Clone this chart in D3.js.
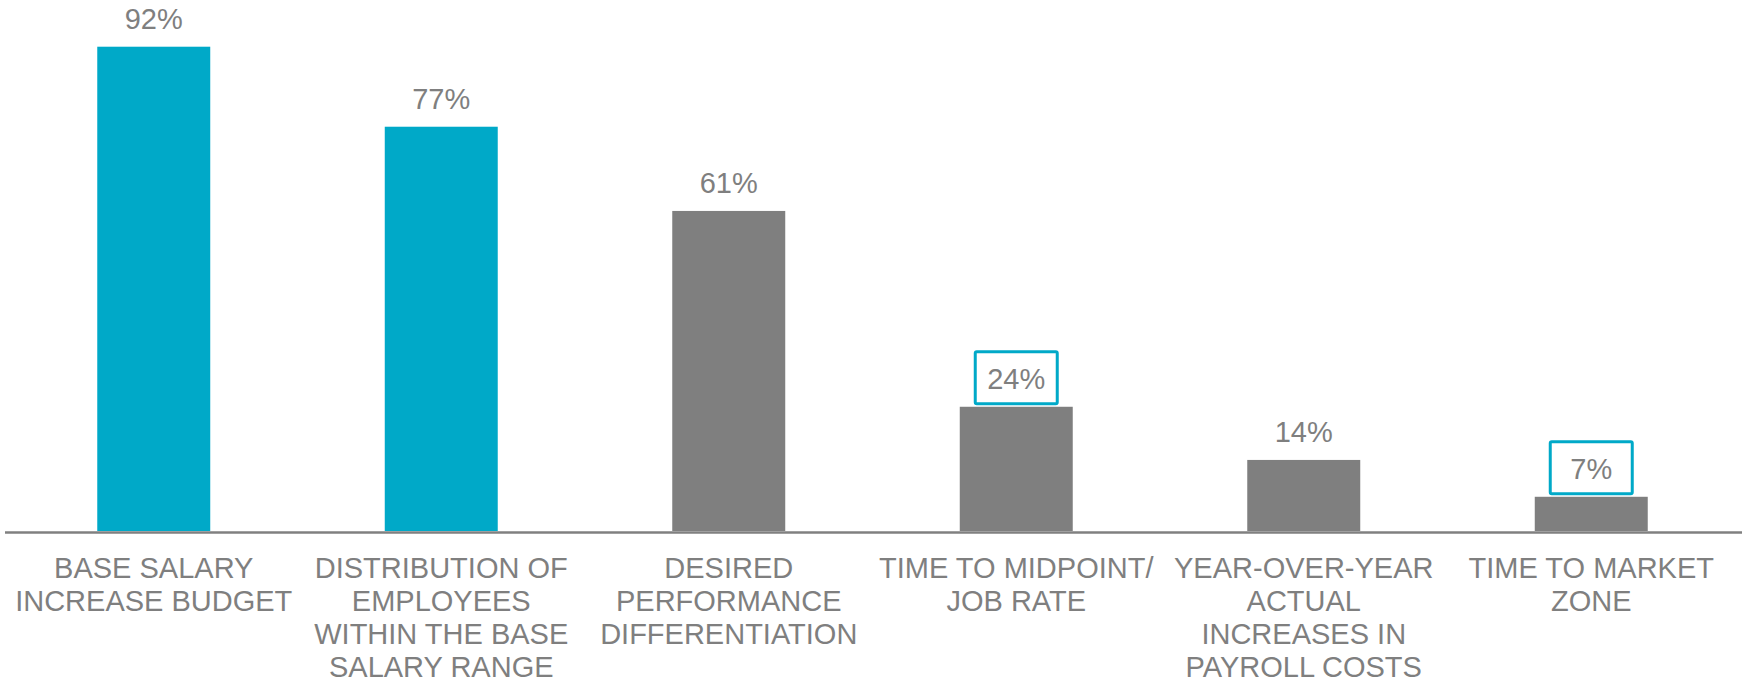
<!DOCTYPE html>
<html>
<head>
<meta charset="utf-8">
<script src="https://cdn.jsdelivr.net/npm/d3@7"></script>
<style>
    body { margin: 0; background: #fff; }
    svg { display: block; font-family: "Liberation Sans", Arial, sans-serif; }
</style>
</head>
<body>
<div id="chart"></div>
<script>
// Chart data
const categories = [
    ["BASE SALARY", "INCREASE BUDGET"],
    ["DISTRIBUTION OF", "EMPLOYEES", "WITHIN THE BASE", "SALARY RANGE"],
    ["DESIRED", "PERFORMANCE", "DIFFERENTIATION"],
    ["TIME TO MIDPOINT/", "JOB RATE"],
    ["YEAR-OVER-YEAR", "ACTUAL", "INCREASES IN", "PAYROLL COSTS"],
    ["TIME TO MARKET", "ZONE"]
];
// bar heights; labels as printed
const values = [92, 76.8, 60.8, 23.6, 13.5, 6.5];
const valueLabels = ["92%", "77%", "61%", "24%", "14%", "7%"];
const highlighted = [true, true, false, false, false, false]; // cyan bars
const boxed = [false, false, false, true, false, true];       // outlined labels

const width = 1742, height = 683;
const cyan = "#00a9c8", grey = "#7f7f7f";

const svg = d3.select("#chart")
    .append("svg")
    .attr("width", width)
    .attr("height", height);

const keys = d3.range(values.length);

const x = d3.scaleBand()
    .domain(keys)
    .range([10, 1735])
    .paddingInner(0.607)
    .paddingOuter(0.3035);

const y = d3.scaleLinear()
    .domain([0, 100])
    .range([531, 4.6]);

// Bars
svg.selectAll(".bar")
    .data(keys)
    .join("rect")
    .attr("class", "bar")
    .attr("x", i => x(i))
    .attr("y", i => y(values[i]))
    .attr("width", x.bandwidth())
    .attr("height", i => y(0) - y(values[i]))
    .attr("fill", i => highlighted[i] ? cyan : grey);

// Baseline
svg.append("line")
    .attr("x1", 5)
    .attr("x2", width)
    .attr("y1", y(0) + 1.5)
    .attr("y2", y(0) + 1.5)
    .attr("stroke", "#808080")
    .attr("stroke-width", 2.5);

// Value labels
const labels = svg.selectAll(".value")
    .data(keys)
    .join("g")
    .attr("class", "value")
    .attr("transform", i => `translate(${x(i) + x.bandwidth() / 2}, ${y(values[i]) - 18})`);

labels.filter(i => boxed[i])
    .append("rect")
    .attr("x", -41)
    .attr("y", -37)
    .attr("width", 82)
    .attr("height", 52)
    .attr("rx", 1.5)
    .attr("fill", "#fff")
    .attr("stroke", cyan)
    .attr("stroke-width", 3);

labels.append("text")
    .attr("text-anchor", "middle")
    .attr("font-size", "29px")
    .attr("fill", grey)
    .text(i => valueLabels[i]);

// Category labels
const cats = svg.selectAll(".cat")
    .data(keys)
    .join("text")
    .attr("class", "cat")
    .attr("text-anchor", "middle")
    .attr("font-size", "29px")
    .attr("fill", grey)
    .attr("transform", i => `translate(${x(i) + x.bandwidth() / 2}, 578)`);

cats.selectAll("tspan")
    .data(i => categories[i])
    .join("tspan")
    .attr("x", 0)
    .attr("y", (d, j) => j * 33)
    .text(d => d);
</script>
</body>
</html>
